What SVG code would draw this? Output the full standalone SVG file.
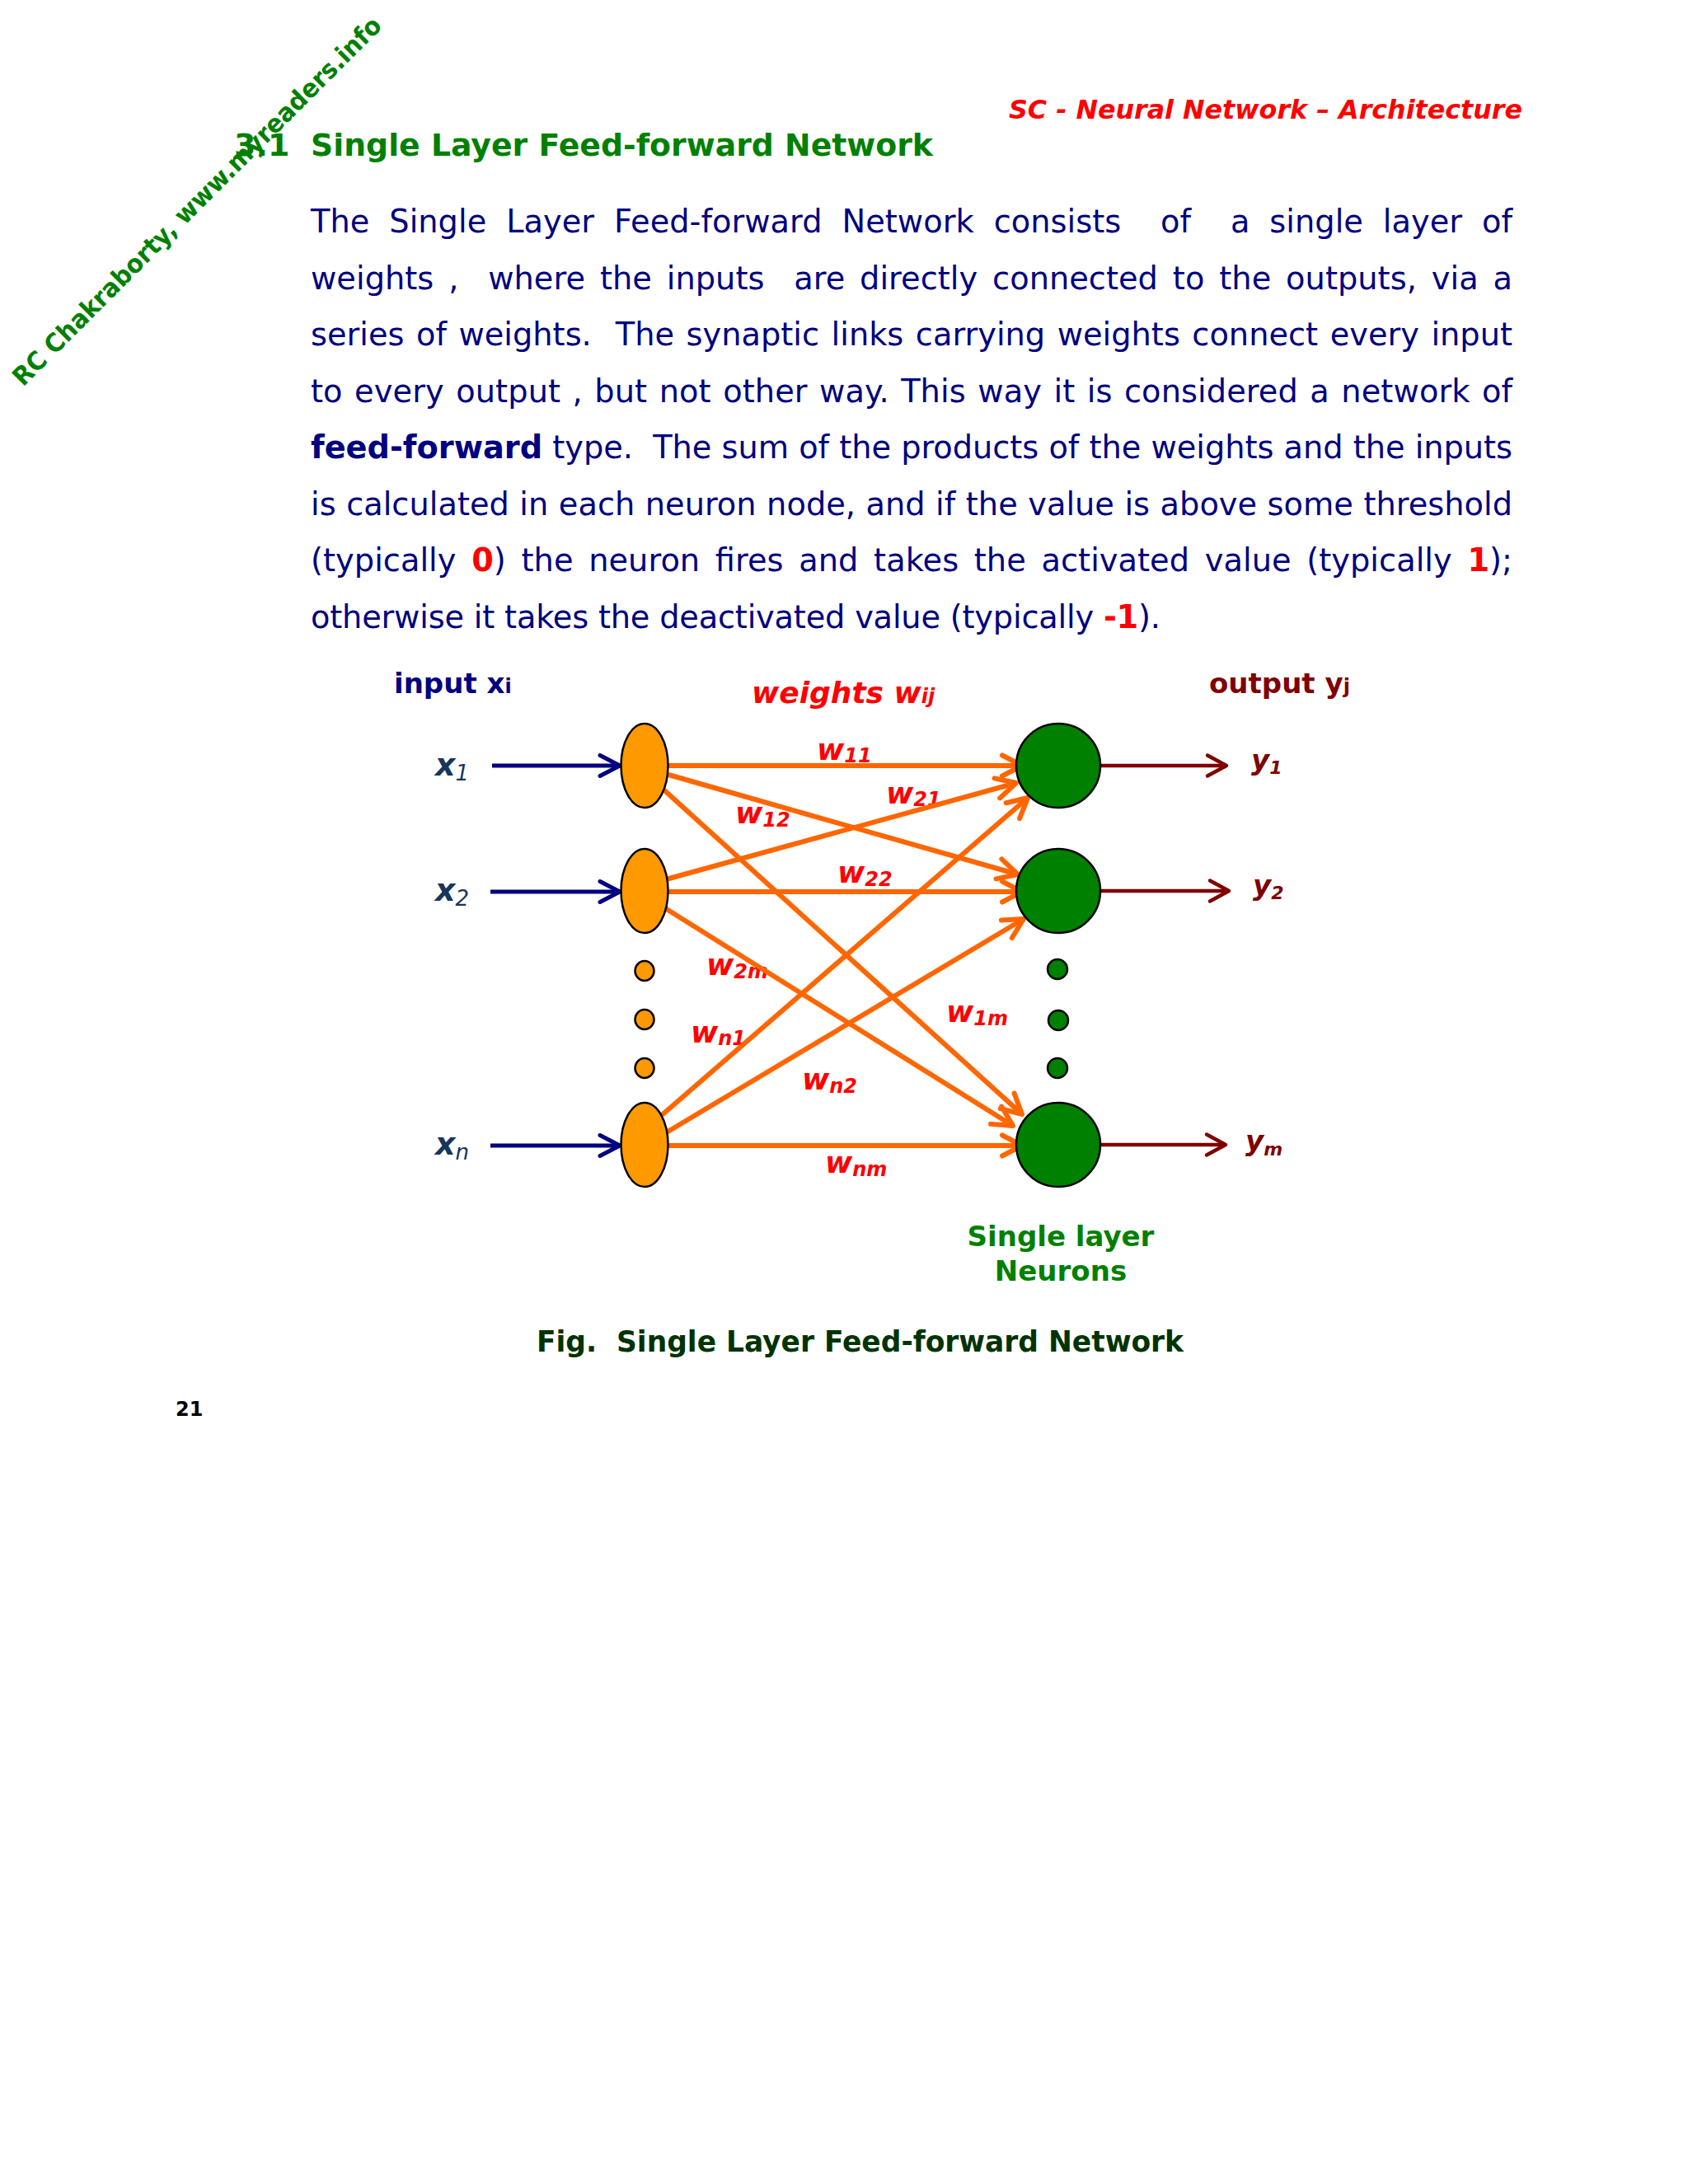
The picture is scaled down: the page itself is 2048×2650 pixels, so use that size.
<svg xmlns="http://www.w3.org/2000/svg" width="2048" height="2650" viewBox="0 0 2048 2650">
<style>
  text { font-family: "DejaVu Sans", Verdana, sans-serif; }
  .body { font-size: 38.3px; fill: #000080; white-space: pre; }
  .b { font-weight: bold; }
  .red { fill: #FF0000; font-weight: bold; }
  .wl { font-size: 36px; font-weight: bold; font-style: italic; fill: #FF0000; }
  .sub { font-size: 24px; }
  .xl { font-size: 38px; font-weight: bold; font-style: italic; fill: #17365D; }
  .yl { font-size: 34px; font-weight: bold; font-style: italic; fill: #800000; }
  .orange { stroke: #FF6600; stroke-width: 6; fill: none; marker-end: url(#arrO); }
  .navy { stroke: #000080; stroke-width: 5; fill: none; marker-end: url(#arrN); }
  .maroon { stroke: #800000; stroke-width: 4.5; fill: none; marker-end: url(#arrM); }
  .inNode { fill: #FF9900; stroke: #000; stroke-width: 2.5; }
  .outNode { fill: #008000; stroke: #000; stroke-width: 2.5; }
</style>
<defs>
  <marker id="arrO" markerUnits="userSpaceOnUse" viewBox="-40 -30 50 60" markerWidth="50" markerHeight="60" refX="0" refY="0" orient="auto" overflow="visible">
    <path d="M-24,-12.5 L0,0 L-24,12.5" fill="none" stroke="#FF6600" stroke-width="6" stroke-linecap="round" stroke-linejoin="round"/>
  </marker>
  <marker id="arrN" markerUnits="userSpaceOnUse" viewBox="-40 -30 50 60" markerWidth="50" markerHeight="60" refX="0" refY="0" orient="auto" overflow="visible">
    <path d="M-24,-12.5 L0,0 L-24,12.5" fill="none" stroke="#000080" stroke-width="5" stroke-linecap="round" stroke-linejoin="round"/>
  </marker>
  <marker id="arrM" markerUnits="userSpaceOnUse" viewBox="-40 -30 50 60" markerWidth="50" markerHeight="60" refX="0" refY="0" orient="auto" overflow="visible">
    <path d="M-23,-12.5 L0,0 L-23,12.5" fill="none" stroke="#800000" stroke-width="4.5" stroke-linecap="round" stroke-linejoin="round"/>
  </marker>
</defs>
<rect width="2048" height="2650" fill="#FFFFFF"/>

<!-- header -->
<text x="1847" y="144" text-anchor="end" font-size="32" font-weight="bold" font-style="italic" fill="#FF0000" textLength="623" lengthAdjust="spacingAndGlyphs">SC - Neural Network – Architecture</text>

<!-- heading -->
<g id="heading" font-size="38" font-weight="bold" fill="#008000">
  <text x="284" y="189">3.1</text>
  <text x="377" y="189" textLength="755" lengthAdjust="spacingAndGlyphs">Single Layer Feed-forward Network</text>
</g>

<!-- watermark -->
<text transform="translate(28,470) rotate(-45)" x="0" y="0" font-size="31" font-weight="bold" fill="#008000" textLength="618" lengthAdjust="spacingAndGlyphs">RC Chakraborty, www.myreaders.info</text>

<!-- body paragraph -->
<g id="paragraph">
  <text class="body" xml:space="preserve" x="377" y="282" word-spacing="11.7" textLength="1458" lengthAdjust="spacing">The Single Layer Feed-forward Network consists  of  a single layer of</text>
  <text class="body" xml:space="preserve" x="377" y="351" word-spacing="5.66" textLength="1458" lengthAdjust="spacing">weights ,  where the inputs  are directly connected to the outputs, via a</text>
  <text class="body" xml:space="preserve" x="377" y="419" word-spacing="2.3" textLength="1458" lengthAdjust="spacing">series of weights.  The synaptic links carrying weights connect every input</text>
  <text class="body" xml:space="preserve" x="377" y="488" word-spacing="2.2" textLength="1458" lengthAdjust="spacing">to every output , but not other way. This way it is considered a network of</text>
  <text class="body" xml:space="preserve" x="377" y="556" textLength="1458" lengthAdjust="spacing"><tspan class="b">feed-forward</tspan> type.  The sum of the products of the weights and the inputs</text>
  <text class="body" xml:space="preserve" x="377" y="625" word-spacing="0.3" textLength="1458" lengthAdjust="spacing">is calculated in each neuron node, and if the value is above some threshold</text>
  <text class="body" xml:space="preserve" x="377" y="693" word-spacing="6.45" textLength="1458" lengthAdjust="spacing">(typically <tspan class="red">0</tspan>) the neuron fires and takes the activated value (typically <tspan class="red">1</tspan>);</text>
  <text class="body" xml:space="preserve" x="377" y="762" textLength="1031" lengthAdjust="spacing">otherwise it takes the deactivated value (typically <tspan class="red">-1</tspan>).</text>
</g>

<!-- diagram titles -->
<text x="478" y="841" font-size="34" font-weight="bold" fill="#000080">input x<tspan font-size="24">i</tspan></text>
<text x="912" y="853" font-size="36" font-weight="bold" font-style="italic" fill="#FF0000">weights w<tspan font-size="24">ij</tspan></text>
<text x="1467" y="841" font-size="34" font-weight="bold" fill="#800000">output y<tspan font-size="24">j</tspan></text>

<!-- weight labels (drawn beneath connectors) -->
<g id="weight-labels">
  <text class="wl" x="991" y="922">w<tspan class="sub" dy="3">11</tspan></text>
  <text class="wl" x="1075" y="975">w<tspan class="sub" dy="3">21</tspan></text>
  <text class="wl" x="892" y="999">w<tspan class="sub" dy="4">12</tspan></text>
  <text class="wl" x="1016" y="1071">w<tspan class="sub" dy="4">22</tspan></text>
  <text class="wl" x="857" y="1183">w<tspan class="sub" dy="4">2m</tspan></text>
  <text class="wl" x="838" y="1265">w<tspan class="sub" dy="3">n1</tspan></text>
  <text class="wl" x="1148" y="1240">w<tspan class="sub" dy="4">1m</tspan></text>
  <text class="wl" x="973" y="1322">w<tspan class="sub" dy="4">n2</tspan></text>
  <text class="wl" x="1001" y="1423">w<tspan class="sub" dy="4">nm</tspan></text>
</g>

<!-- connectors -->
<g id="connectors">
  <line class="navy" x1="597" y1="929" x2="752" y2="929"/>
  <line class="navy" x1="595" y1="1082" x2="752" y2="1082"/>
  <line class="navy" x1="595" y1="1390" x2="752" y2="1390"/>

  <line class="orange" x1="811" y1="929" x2="1240" y2="929"/>
  <line class="orange" x1="811" y1="940" x2="1235" y2="1061"/>
  <line class="orange" x1="805" y1="958" x2="1240" y2="1352"/>
  <line class="orange" x1="808" y1="1067" x2="1233" y2="950"/>
  <line class="orange" x1="811" y1="1082" x2="1240" y2="1082"/>
  <line class="orange" x1="807" y1="1102" x2="1229" y2="1366"/>
  <line class="orange" x1="803" y1="1353" x2="1247" y2="968"/>
  <line class="orange" x1="807" y1="1375" x2="1242" y2="1115"/>
  <line class="orange" x1="811" y1="1390" x2="1240" y2="1390"/>

  <line class="maroon" x1="1335" y1="929" x2="1488" y2="929"/>
  <line class="maroon" x1="1335" y1="1081" x2="1491" y2="1081"/>
  <line class="maroon" x1="1335" y1="1389" x2="1487" y2="1389"/>
</g>

<!-- input labels -->
<g id="input-labels">
  <text class="xl" x="528" y="941">x<tspan font-size="26" font-weight="normal" dy="6">1</tspan></text>
  <text class="xl" x="528" y="1093">x<tspan font-size="26" font-weight="normal" dy="6">2</tspan></text>
  <text class="xl" x="528" y="1401">x<tspan font-size="26" font-weight="normal" dy="6">n</tspan></text>
</g>

<!-- input nodes -->
<g id="input-x1"><ellipse class="inNode" cx="782" cy="929" rx="28.5" ry="51"/></g>
<g id="input-x2"><ellipse class="inNode" cx="782" cy="1081" rx="28.5" ry="51"/></g>
<g id="input-dots">
  <ellipse class="inNode" cx="782" cy="1178" rx="11.5" ry="12"/>
  <ellipse class="inNode" cx="782" cy="1237" rx="11.5" ry="12"/>
  <ellipse class="inNode" cx="782" cy="1296" rx="11.5" ry="12"/>
</g>
<g id="input-xn"><ellipse class="inNode" cx="782" cy="1389" rx="28.5" ry="51"/></g>

<!-- output nodes -->
<g id="output-y1"><circle class="outNode" cx="1284" cy="929" r="51"/></g>
<g id="output-y2"><circle class="outNode" cx="1284" cy="1081" r="51"/></g>
<g id="output-dots">
  <circle class="outNode" cx="1283" cy="1176" r="12"/>
  <circle class="outNode" cx="1284" cy="1238" r="12"/>
  <circle class="outNode" cx="1283" cy="1296" r="12"/>
</g>
<g id="output-ym"><circle class="outNode" cx="1284" cy="1389" r="51"/></g>

<!-- output labels -->
<g id="output-labels">
  <text class="yl" x="1518" y="934">y<tspan font-size="22" dy="5">1</tspan></text>
  <text class="yl" x="1520" y="1086">y<tspan font-size="22" dy="5">2</tspan></text>
  <text class="yl" x="1511" y="1396">y<tspan font-size="22" dy="6">m</tspan></text>
</g>

<!-- layer caption -->
<g id="layer-caption" font-size="34" font-weight="bold" fill="#008000" text-anchor="middle">
  <text x="1287" y="1512">Single layer</text>
  <text x="1287" y="1554">Neurons</text>
</g>

<!-- figure caption -->
<text x="651" y="1640" font-size="35" font-weight="bold" fill="#003300" textLength="785" lengthAdjust="spacingAndGlyphs" xml:space="preserve">Fig.  Single Layer Feed-forward Network</text>

<!-- page number -->
<text x="213" y="1718" font-size="24" font-weight="bold" fill="#000000">21</text>
</svg>
